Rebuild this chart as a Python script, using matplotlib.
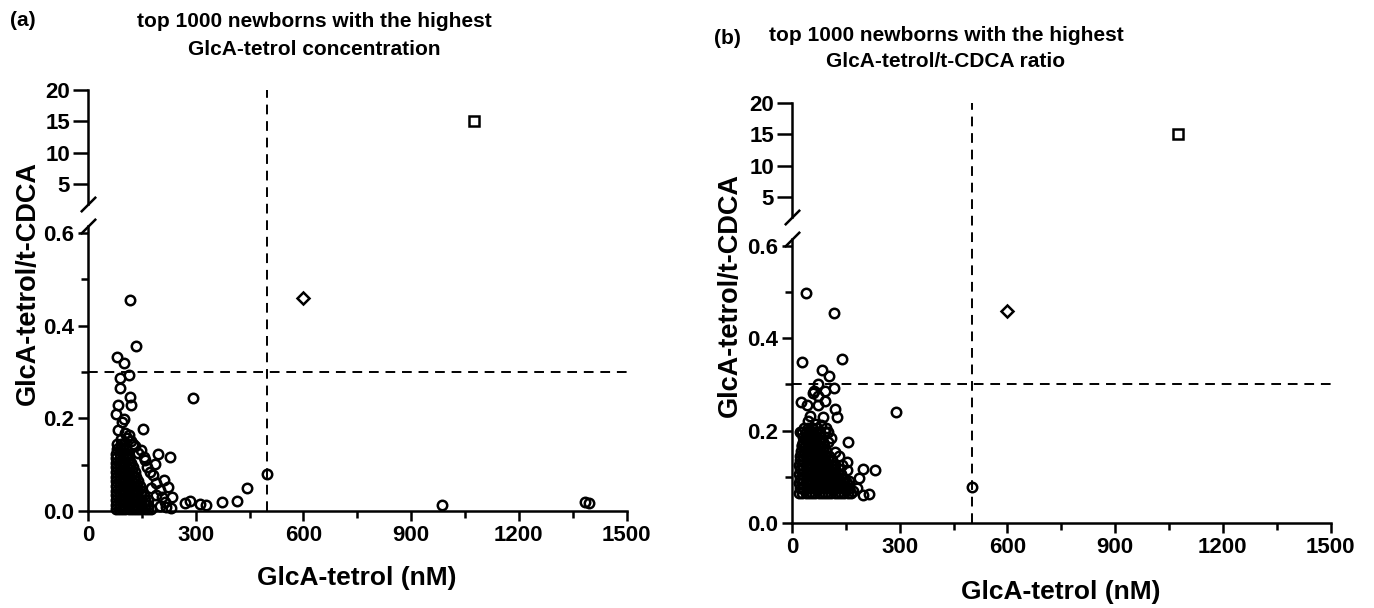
import matplotlib.pyplot as plt
from matplotlib.ticker import MultipleLocator

plt.rcParams['font.family'] = ['Liberation Sans', 'DejaVu Sans']
plt.rcParams['font.weight'] = 'bold'

# ---- panel (a): top 1000 by GlcA-tetrol concentration ----
# dense cluster, read row by row (ratio level -> concentrations)
a_blob_y = [0.004, 0.014, 0.024, 0.034, 0.044, 0.054, 0.064, 0.074,
            0.084, 0.094, 0.104, 0.114, 0.124, 0.134, 0.144]
a_blob_x = [
    [77, 86, 95, 104, 113, 122, 131, 140, 149, 158, 167, 176],
    [78, 88, 98, 108, 118, 128, 138, 148, 158, 168],
    [77, 86, 95, 104, 113, 122, 131, 140, 149, 158, 166],
    [78, 88, 98, 108, 118, 128, 138, 148, 157],
    [77, 86, 95, 104, 113, 122, 131, 140, 150],
    [78, 88, 98, 108, 118, 128, 137, 146],
    [77, 86, 95, 104, 113, 122, 131, 140],
    [78, 88, 98, 108, 118, 127, 135],
    [77, 86, 95, 104, 113, 122, 130],
    [78, 88, 98, 108, 117, 125],
    [77, 86, 95, 104, 113, 120],
    [78, 88, 98, 107, 115],
    [79, 88, 97, 105, 112],
    [80, 89, 98, 106],
    [82, 91, 100],
]
a_x = [117, 135, 80, 101, 89, 115, 89, 117, 84, 121, 77, 101, 95, 154, 84,
       103, 115, 120, 149, 157, 196, 228, 186, 182, 212, 224, 233, 231, 270,
       284, 312, 328, 372, 414, 442, 292, 500, 985, 1385, 1395,
       165, 172, 190, 200, 205, 215, 200, 218, 190, 160, 140, 130, 175, 108,
       92, 126]
a_y = [0.456, 0.356, 0.332, 0.320, 0.288, 0.294, 0.265, 0.247, 0.229, 0.229,
       0.209, 0.199, 0.193, 0.176, 0.174, 0.168, 0.163, 0.152, 0.132, 0.116,
       0.122, 0.116, 0.102, 0.077, 0.066, 0.052, 0.031, 0.006, 0.018, 0.022,
       0.015, 0.014, 0.020, 0.022, 0.049, 0.244, 0.080, 0.012, 0.020, 0.018,
       0.095, 0.085, 0.060, 0.045, 0.030, 0.020, 0.010, 0.008, 0.035, 0.110,
       0.125, 0.140, 0.050, 0.158, 0.156, 0.145]

# ---- panel (b): top 1000 by GlcA-tetrol/t-CDCA ratio ----
b_blob_y = [0.066, 0.076, 0.086, 0.096, 0.106, 0.116, 0.126, 0.136,
            0.146, 0.156, 0.166, 0.176, 0.186, 0.196, 0.206]
b_blob_x = [
    [20, 29, 38, 47, 56, 65, 74, 83, 92, 101, 110, 119, 128, 137, 146, 155, 163],
    [21, 31, 41, 51, 61, 71, 81, 91, 101, 111, 121, 131, 141, 151, 158],
    [20, 29, 38, 47, 56, 65, 74, 83, 92, 101, 110, 119, 128, 137, 146, 153],
    [21, 31, 41, 51, 61, 71, 81, 91, 101, 111, 121, 131, 141, 147],
    [20, 29, 38, 47, 56, 65, 74, 83, 92, 101, 110, 119, 128, 137],
    [21, 31, 41, 51, 61, 71, 81, 91, 101, 111, 121, 130],
    [20, 29, 38, 47, 56, 65, 74, 83, 92, 101, 110, 120],
    [21, 31, 41, 51, 61, 71, 81, 91, 101, 112],
    [22, 30, 38, 47, 56, 65, 74, 83, 92, 104],
    [24, 33, 42, 51, 60, 69, 78, 87, 96],
    [27, 36, 45, 54, 63, 72, 81, 90],
    [32, 41, 50, 59, 68, 77, 86],
    [30, 40, 50, 60, 70, 80],
    [28, 38, 48, 58, 68, 78, 92],
    [33, 45, 57, 69],
]
b_x = [38, 118, 27, 139, 83, 104, 72, 118, 62, 92, 59, 73, 92, 25, 41, 73,
       120, 125, 50, 86, 101, 157, 22, 27, 120, 152, 152, 197, 231, 187, 180,
       197, 215, 290, 501,
       65, 80, 95, 110, 100, 130, 140, 160, 170, 45]
b_y = [0.497, 0.454, 0.349, 0.355, 0.331, 0.318, 0.300, 0.293, 0.285, 0.286,
       0.282, 0.275, 0.265, 0.261, 0.256, 0.256, 0.247, 0.230, 0.232, 0.229,
       0.196, 0.175, 0.196, 0.168, 0.153, 0.132, 0.114, 0.118, 0.115, 0.098,
       0.075, 0.060, 0.062, 0.241, 0.078,
       0.215, 0.212, 0.205, 0.185, 0.175, 0.145, 0.125, 0.090, 0.070, 0.220]

# the two special newborns shown in both panels
square_x, square_y = [1075], [15]
diamond_x, diamond_y = [600], [0.46]

x_cut = 500
ratio_cut = 0.3

fig = plt.figure(figsize=(13.74, 6.08), dpi=100)

ms_kw = dict(linestyle='none', mfc='none', mec='black', color='black')
dash = (0, (5, 3.5))


def panel(left, low_bottom, low_h, up_bottom, up_h, blob_y, blob_x, xs, ys):
    width = 0.3920
    ax = fig.add_axes([left, low_bottom, width, low_h])
    up = fig.add_axes([left, up_bottom, width, up_h])

    cx = [x for row in blob_x for x in row]
    cy = [y for y, row in zip(blob_y, blob_x) for _ in row]
    ax.plot(cx, cy, marker='o', ms=6.8, mew=1.8, **ms_kw, clip_on=False)
    ax.plot(xs, ys, marker='o', ms=6.8, mew=1.8, **ms_kw, clip_on=False)
    ax.plot(diamond_x, diamond_y, marker='D', ms=6.0, mew=1.8, **ms_kw)
    up.plot(square_x, square_y, marker='s', ms=6.6, mew=1.8, **ms_kw)

    ax.set_xlim(0, 1500)
    ax.set_ylim(0, 0.615)
    up.set_xlim(0, 1500)
    up.set_ylim(1.8, 20)

    ax.axhline(ratio_cut, color='black', lw=1.4, ls=dash)
    # vertical cut runs through the axis break up to the top
    top = ax.transData.inverted().transform(up.transAxes.transform((0, 1)))[1]
    ax.plot([x_cut, x_cut], [0, top], color='black', lw=1.4, ls=dash,
            clip_on=False)

    for a in (ax, up):
        a.spines['top'].set_visible(False)
        a.spines['right'].set_visible(False)
        a.spines['left'].set_linewidth(1.8)
        a.spines['bottom'].set_linewidth(1.8)
        a.patch.set_alpha(0)
    up.spines['bottom'].set_visible(False)
    up.set_xticks([])

    ax.set_xticks([0, 300, 600, 900, 1200, 1500])
    ax.xaxis.set_minor_locator(MultipleLocator(150))
    ax.set_yticks([0.0, 0.2, 0.4, 0.6])
    ax.set_yticklabels(['0.0', '0.2', '0.4', '0.6'])
    ax.yaxis.set_minor_locator(MultipleLocator(0.1))
    up.set_yticks([5, 10, 15, 20])

    ax.tick_params(which='major', length=7, width=1.8, labelsize=16, pad=3)
    ax.tick_params(which='minor', length=5, width=1.8)
    up.tick_params(axis='y', length=11, width=1.8, labelsize=16, pad=2)

    brk = dict(marker=[(-1, -1), (1, 1)], markersize=11, mew=1.8,
               linestyle='none', color='black', clip_on=False)
    ax.plot([0], [1], transform=ax.transAxes, **brk)
    up.plot([0], [0], transform=up.transAxes, **brk)
    return ax, up


panel(0.0640, 0.1595, 0.4688, 0.6645, 0.1875, a_blob_y, a_blob_x, a_x, a_y)
panel(0.5764, 0.1398, 0.4671, 0.6430, 0.1875, b_blob_y, b_blob_x, b_x, b_y)

fig.text(0.2285, 0.9424, 'top 1000 newborns with the highest\nGlcA-tetrol concentration',
         ha='center', va='center', fontsize=15, fontweight='bold', linespacing=1.6)
fig.text(0.6885, 0.920, 'top 1000 newborns with the highest\nGlcA-tetrol/t-CDCA ratio',
         ha='center', va='center', fontsize=15, fontweight='bold', linespacing=1.45)
fig.text(0.007, 0.967, '(a)', ha='left', va='center', fontsize=15, fontweight='bold')
fig.text(0.520, 0.9375, '(b)', ha='left', va='center', fontsize=15, fontweight='bold')

fig.text(0.0204, 0.5345, 'GlcA-tetrol/t-CDCA', rotation=90, ha='center', va='center',
         fontsize=19.5, fontweight='bold')
fig.text(0.531, 0.515, 'GlcA-tetrol/t-CDCA', rotation=90, ha='center', va='center',
         fontsize=19.5, fontweight='bold')
fig.text(0.260, 0.049, 'GlcA-tetrol (nM)', ha='center', va='center',
         fontsize=19, fontweight='bold')
fig.text(0.772, 0.026, 'GlcA-tetrol (nM)', ha='center', va='center',
         fontsize=19, fontweight='bold')

fig.savefig('out.png', dpi=100)
